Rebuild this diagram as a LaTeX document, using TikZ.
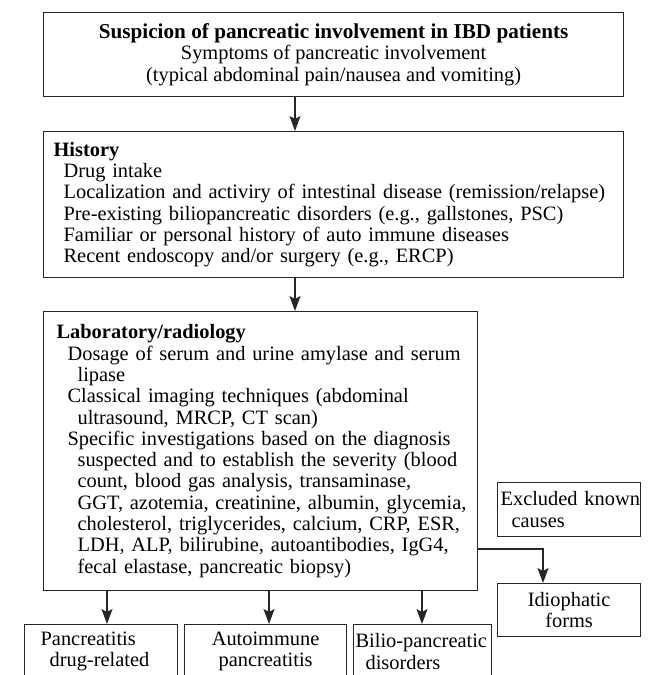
\documentclass[tikz,border=0pt]{standalone}
\usepackage{fontspec}
\setmainfont{Liberation Serif}
\usetikzlibrary{arrows.meta}
\begin{document}
\begin{tikzpicture}[x=1pt,y=-1pt,
  box/.style={draw=black!85, line width=1.2pt, anchor=north west, inner sep=0pt, text=black,
    font=\fontsize{20.4}{21.3}\selectfont},
  arr/.style={draw=black!85, line width=1.2pt, -{Stealth[length=15pt,width=11pt,inset=3pt]}}]
\useasboundingbox (0,0) rectangle (649,675);
\clip (0,0) rectangle (649,675);

\node[box, minimum width=580pt, minimum height=84pt, align=center] (top) at (43,12)
  {{\fontsize{21.2}{21.3}\selectfont\bfseries Suspicion of pancreatic involvement in IBD patients}\\
   Symptoms of pancreatic involvement\\
   (typical abdominal pain/nausea and vomiting)};

\node[box, minimum height=146pt, text width=560pt, inner xsep=10pt, align=left] (hist) at (43,131)
  {\textbf{History}\\
   \hspace*{10pt}\mbox{Drug intake}\\
   \hspace*{10pt}\mbox{Localization and activiry of intestinal disease (remission/relapse)}\\
   \hspace*{10pt}\mbox{Pre-existing biliopancreatic disorders (e.g., gallstones, PSC)}\\
   \hspace*{10pt}\mbox{Familiar or personal history of auto immune diseases}\\
   \hspace*{10pt}\mbox{Recent endoscopy and/or surgery (e.g., ERCP)}};

\node[box, minimum height=279pt, text width=408pt, inner xsep=13pt, align=left] (lab) at (43,311)
  {\textbf{Laboratory/radiology}\\
   \hspace*{11pt}\mbox{Dosage of serum and urine amylase and serum}\\
   \hspace*{21pt}\mbox{lipase}\\
   \hspace*{11pt}\mbox{Classical imaging techniques (abdominal}\\
   \hspace*{21pt}\mbox{ultrasound, MRCP, CT scan)}\\
   \hspace*{11pt}\mbox{Specific investigations based on the diagnosis}\\
   \hspace*{21pt}\mbox{suspected and to establish the severity (blood}\\
   \hspace*{21pt}\mbox{count, blood gas analysis, transaminase,}\\
   \hspace*{21pt}\mbox{GGT, azotemia, creatinine, albumin, glycemia,}\\
   \hspace*{21pt}\mbox{cholesterol, triglycerides, calcium, CRP, ESR,}\\
   \hspace*{21pt}\mbox{LDH, ALP, bilirubine, autoantibodies, IgG4,}\\
   \hspace*{21pt}\mbox{fecal elastase, pancreatic biopsy)}};

\node[box, minimum height=54pt, text width=137pt, inner xsep=3pt, align=left] (exc) at (497,482)
  {\mbox{Excluded known}\\\hspace*{11pt}causes};

\node[box, minimum width=143pt, minimum height=53pt, align=center] (idio) at (497,583)
  {Idiophatic\\forms};

\node[box, minimum height=54pt, text width=121pt, inner xsep=16pt, align=left] (b1) at (24,624)
  {Pancreatitis\\\hspace*{9pt}drug-related};
\node[box, minimum width=162pt, minimum height=54pt, align=center] (b2) at (184,624)
  {Autoimmune\\pancreatitis};
\node[box, minimum height=54pt, text width=134pt, inner xsep=2pt, align=left] (b3) at (353,624)
  {\mbox{Bilio-pancreatic}\\\hspace*{10pt}disorders};

\coordinate (c1) at (295,0);
\coordinate (c2) at (107,0);
\coordinate (c3) at (269,0);
\coordinate (c4) at (422,0);
\coordinate (c5) at (543,549);

\draw[arr] (top.south -| c1) -- (hist.north -| c1);
\draw[arr] (hist.south -| c1) -- (lab.north -| c1);
\draw[arr] (lab.south -| c2) -- (b1.north -| c2);
\draw[arr] (lab.south -| c3) -- (b2.north -| c3);
\draw[arr] (lab.south -| c4) -- (b3.north -| c4);
\draw[arr] (lab.east |- c5) -| (idio.north -| c5);
\end{tikzpicture}
\end{document}
